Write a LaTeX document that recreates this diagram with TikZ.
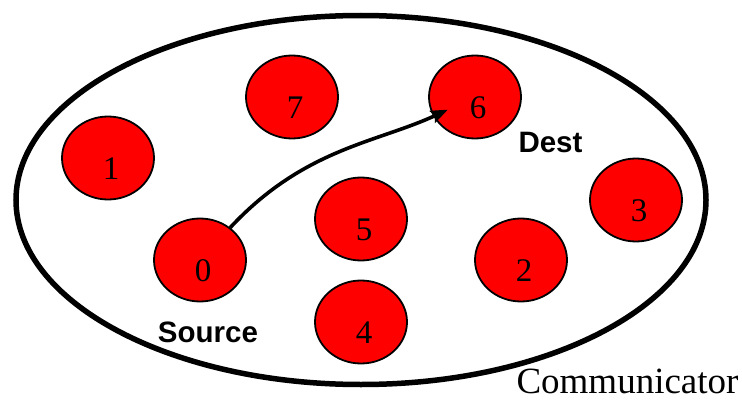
\documentclass[tikz,border=0pt]{standalone}
\usepackage{fontspec}
\setmainfont{Liberation Serif}
\newfontfamily\sansb{Liberation Sans}
\usetikzlibrary{shapes.geometric,arrows.meta}
\tikzset{
  proc/.style={ellipse, draw=black, line width=1.8pt, fill=red,
    minimum width=92pt, minimum height=83pt, inner sep=0pt,
    text height=43pt, text depth=0pt,
    font=\fontsize{33}{40}\selectfont},
  boldlabel/.style={anchor=base, inner sep=0pt, font=\sansb\bfseries\fontsize{29.5}{32}\selectfont},
  msgarrow/.style={line width=3.6pt, -{Stealth[length=17pt,width=13pt,inset=3pt]}}
}
\begin{document}
\begin{tikzpicture}[x=1pt,y=1pt]
\useasboundingbox (0,0) rectangle (742,400);
\node[ellipse, draw=black, line width=5.5pt, minimum width=690pt, minimum height=369pt, inner sep=0pt] (comm) at (361,200) {};
\node[proc] (n7) at (292,303) {\hspace*{6pt}7};
\node[proc] (n6) at (475,303) {\hspace*{6pt}6};
\node[proc] (n1) at (108,242) {\hspace*{6pt}1};
\node[proc] (n0) at (200,140) {\hspace*{6pt}0};
\node[proc] (n5) at (361,181) {\hspace*{6pt}5};
\node[proc] (n3) at (636,200) {\hspace*{6pt}3};
\node[proc] (n2) at (521,140) {\hspace*{6pt}2};
\node[proc] (n4) at (361,78) {\hspace*{6pt}4};
\node[boldlabel] (dest) at (550.5,248) {Dest};
\node[boldlabel] (src) at (208,58) {Source};
\node[anchor=base, inner sep=0pt, font=\fontsize{37}{42}\selectfont] (commlabel) at (627.5,7) {Communicator};
\draw[msgarrow, shorten >=30pt] (n0) to[out=47,in=205] (n6.center);
\end{tikzpicture}
\end{document}
